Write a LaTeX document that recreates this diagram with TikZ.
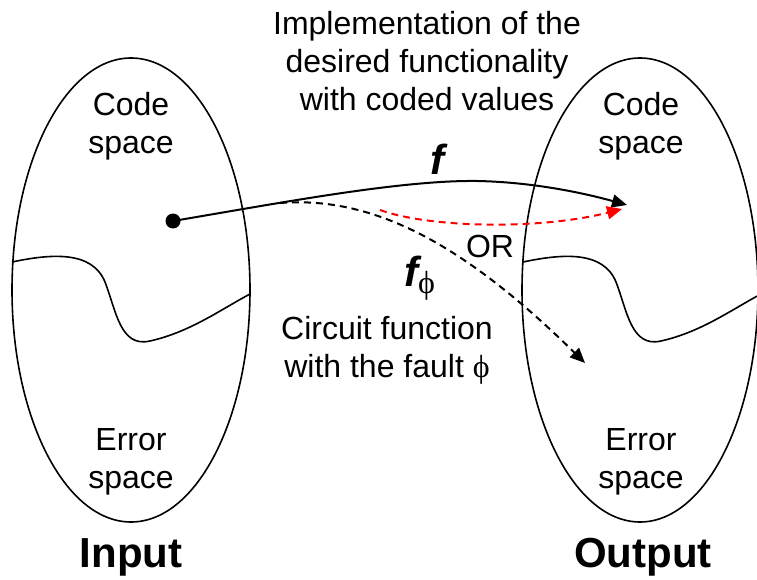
\documentclass[tikz,border=0pt]{standalone}
\usepackage{fontspec}
\setmainfont{Liberation Sans}
\newfontfamily\phifont{Liberation Serif}
\usetikzlibrary{arrows.meta}
\begin{document}
\begin{tikzpicture}[x=1pt,y=-1pt,
  space/.style={draw,line width=1.6pt},
  lbl/.style={inner sep=0pt,align=center,font=\fontsize{32}{38}\selectfont},
  big/.style={inner sep=0pt,font=\fontsize{42}{46}\selectfont\bfseries},
  fn/.style={inner sep=0pt,font=\fontsize{42}{46}\selectfont\bfseries\itshape},
  conn/.style={line width=2pt,-{Triangle[length=15pt,width=13pt]}},
  alt/.style={conn,dash pattern=on 7pt off 5pt}]
\useasboundingbox (0,0) rectangle (757,580);

% the two value spaces
\draw[space] (131,290) ellipse [x radius=119, y radius=232];
\draw[space] (640,290) ellipse [x radius=118, y radius=232];

% boundary between code space and error space
\draw[space] (12,262) .. controls (50,254) and (92,250) .. (105,282)
  .. controls (116,310) and (120,348) .. (150,341)
  .. controls (190,332) and (220,310) .. (250,294);
\draw[space] (523,262) .. controls (561,254) and (603,250) .. (616,282)
  .. controls (627,310) and (631,348) .. (661,341)
  .. controls (701,332) and (731,310) .. (761,294);

% labels inside the spaces
\node[lbl] (ic) at (131,126) {Code\\space};
\node[lbl] (ie) at (131,462) {Error\\space};
\node[lbl] (oc) at (641,126) {Code\\space};
\node[lbl] (oe) at (641,462) {Error\\space};
\node[big] (in) at (131,557) {Input};
\node[big] (out) at (643,557) {Output};

% mappings
\fill (173,221) circle (7.5pt);
\coordinate (dot) at (173,221);
\coordinate (peak) at (477,181);
\coordinate (good) at (627,205);
\coordinate (fork) at (280,203);
\coordinate (bad) at (585,363);
\coordinate (rfork) at (380,210);
\coordinate (rgood) at (622,209);

\draw[conn] (dot) .. controls (280,203) and (400,180) .. (peak)
  .. controls (530,182) and (580,192) .. (good);
\draw[alt] (fork) .. controls (370,196) and (460,240) .. (bad);
\draw[alt,red] (rfork) .. controls (430,228) and (540,230) .. (rgood);

% texts
\node[lbl] (impl) at (427,61) {Implementation of the\\desired functionality\\with coded values};
\node[fn] (f) at (437,159) {f};
\node[lbl] (or) at (490,246) {OR};
\node[inner sep=0pt,anchor=base west] (ff) at (404,286)
  {\fontsize{42}{46}\selectfont\bfseries\itshape f\raisebox{-0.18em}{\fontsize{32}{32}\selectfont\upshape\mdseries\phifont ϕ}};
\node[lbl] (circ) at (387,350) {Circuit function\\with the fault {\phifont ϕ}};
\end{tikzpicture}
\end{document}
